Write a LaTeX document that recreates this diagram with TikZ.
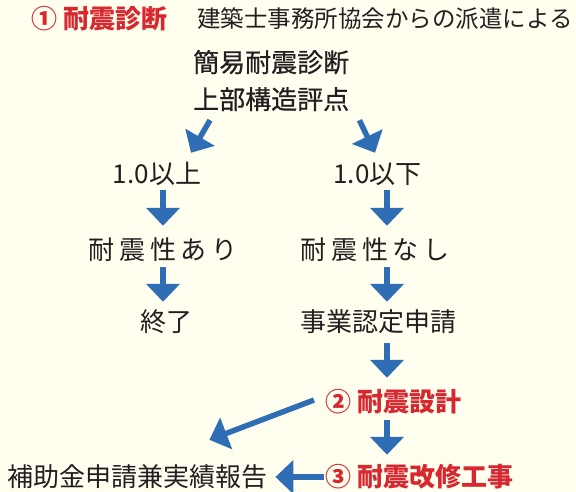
\documentclass[tikz,border=0pt]{standalone}
\usepackage{fontspec}
\setmainfont{Noto Sans CJK JP}
\usetikzlibrary{arrows.meta}
\definecolor{bgcream}{HTML}{FFFEEF}
\definecolor{arrblue}{HTML}{2F6DB5}
\definecolor{stepred}{HTML}{D7282F}
\definecolor{inkgray}{HTML}{231F20}
\tikzset{every node/.style={inner sep=0pt, text height=22pt, text depth=4pt, text=inkgray, font=\fontsize{26pt}{30pt}\selectfont},
  stephead/.style={text=stepred, font=\fontsize{26pt}{30pt}\selectfont\bfseries},
  smalltxt/.style={font=\fontsize{23.5pt}{28pt}\selectfont, text height=20pt, text depth=4pt},
  spaced/.style={font=\fontsize{26pt}{30pt}\selectfont\addfontfeature{LetterSpace=19}},
  flowarr/.style={arrblue, line width=5.5pt, -{Triangle[width=33pt,length=18pt]}}}
\begin{document}
\begin{tikzpicture}[x=1pt,y=-1pt]
  \fill[bgcream] (0,0) rectangle (576,492);
  \useasboundingbox (0,0) rectangle (576,492);
  % columns of the down arrows
  \coordinate (lcol) at (163,0);
  \coordinate (rcol) at (387,0);
  % texts
  \node[stephead, anchor=west] (shindan) at (31,20) {① 耐震診断};
  \node[smalltxt, anchor=west] (haken) at (197,20) {建築士事務所協会からの派遣による};
  \node[anchor=west, font=\fontsize{26pt}{30pt}\selectfont\addfontfeature{FakeBold=0.6}] (kanni) at (193,63) {簡易耐震診断};
  \node[anchor=west, font=\fontsize{26pt}{30pt}\selectfont\addfontfeature{FakeBold=0.6}] (jobu) at (193,100) {上部構造評点};
  \node (ijo) at (157,175) {1.0以上};
  \node (ika) at (377.5,175) {1.0以下};
  \node[spaced, anchor=west] (ari) at (88,250) {耐震性あり};
  \node[spaced, anchor=west] (nashi) at (300,250) {耐震性なし};
  \node[anchor=west] (owari) at (140,322) {終了};
  \node[anchor=west] (nintei) at (300,322) {事業認定申請};
  \node[stephead, anchor=west] (sekkei) at (325,402) {② 耐震設計};
  \node[stephead, anchor=west] (kaishu) at (325,477) {③ 耐震改修工事};
  \node[anchor=west] (hojo) at (7,477) {補助金申請兼実績報告};
  % arrows
  \draw[flowarr] ([xshift=17pt,yshift=-7pt]jobu.south west) -- ([xshift=34pt,yshift=9pt]ijo.north);
  \draw[flowarr] ([xshift=10pt,yshift=-7pt]jobu.south east) -- ([xshift=-2.5pt,yshift=9pt]ika.north);
  \draw[flowarr, shorten <=2pt, shorten >=11pt] (ijo.south -| lcol) -- (ari.north -| lcol);
  \draw[flowarr, shorten <=4pt, shorten >=7pt] (ari.south -| lcol) -- (owari.north -| lcol);
  \draw[flowarr, shorten <=2pt, shorten >=11pt] (ika.south -| rcol) -- (nashi.north -| rcol);
  \draw[flowarr, shorten <=4pt, shorten >=7pt] (nashi.south -| rcol) -- (nintei.north -| rcol);
  \draw[flowarr, shorten <=8pt, shorten >=11pt] (nintei.south -| rcol) -- (sekkei.north -| rcol);
  \draw[flowarr, shorten <=5pt, shorten >=9pt] (sekkei.south -| rcol) -- (kaishu.north -| rcol);
  \draw[flowarr] ([xshift=-11pt,yshift=2pt]sekkei.west) -- ([xshift=-58pt,yshift=24pt]hojo.north east);
  \draw[flowarr] ([xshift=-1.5pt]kaishu.west) -- ([xshift=8pt]hojo.east);
\end{tikzpicture}
\end{document}
